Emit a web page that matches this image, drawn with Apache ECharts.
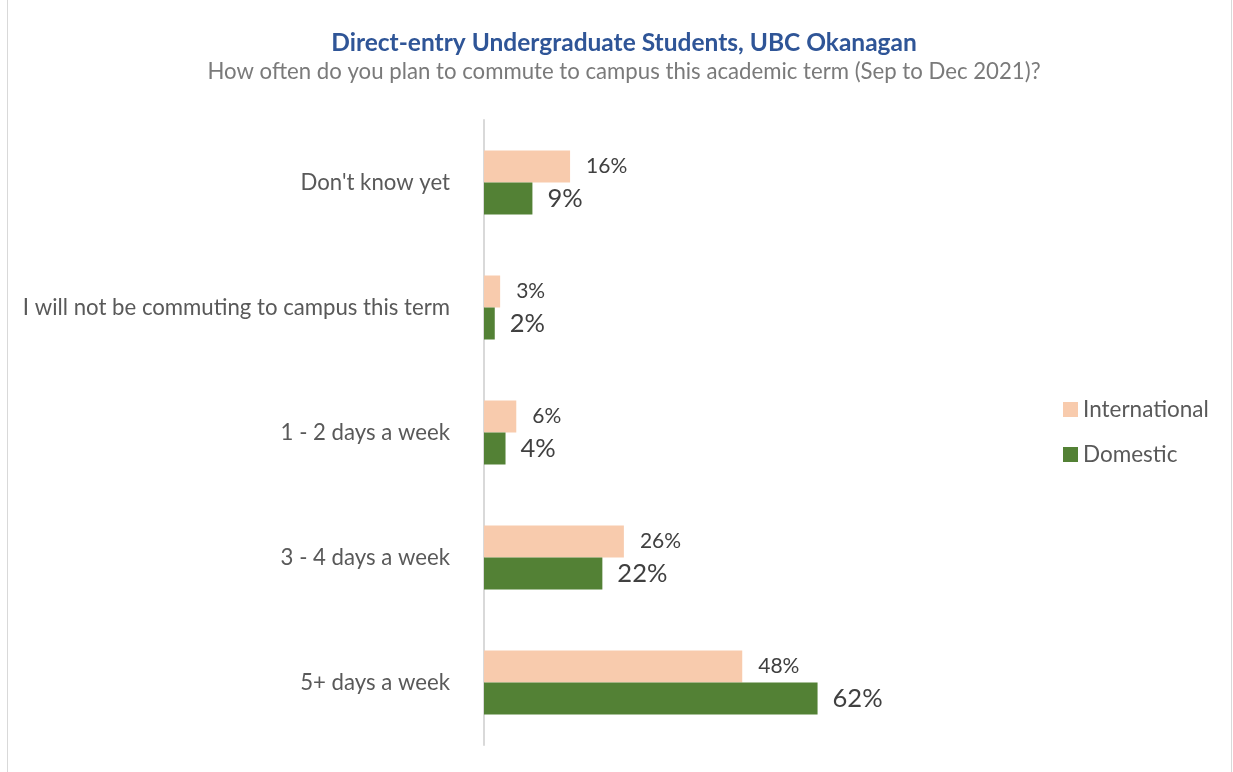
<!DOCTYPE html>
<html><head><meta charset="utf-8">
<script src="https://cdn.jsdelivr.net/npm/echarts@6/dist/echarts.min.js"></script>
<style>html,body{margin:0;padding:0;background:#fff}#c{width:1233px;height:772px}</style>
</head><body><div id="c"></div>
<script>
const categories = ["Don't know yet", "I will not be commuting to campus this term", "1 - 2 days a week", "3 - 4 days a week", "5+ days a week"];
const international = [16, 3, 6, 26, 48];
const domestic = [9, 2, 4, 22, 62];
const seriesNames = ["International", "Domestic"];

const chart = echarts.init(document.getElementById('c'));
chart.setOption({
  animation: false,
  textStyle: { fontFamily: 'Lato' },
  graphic: [{ type: 'rect', shape: { x: 7.5, y: -2, width: 1224, height: 790 }, style: { fill: 'none', stroke: '#d9d9d9', lineWidth: 1 } }],
  title: {
    text: 'Direct-entry Undergraduate Students, UBC Okanagan',
    subtext: 'How often do you plan to commute to campus this academic term (Sep to Dec 2021)?',
    left: 619, textAlign: 'center', top: 26,
    textStyle: { color: '#2F5597', fontSize: 24.5, fontWeight: 'bold', fontFamily: 'Lato' },
    subtextStyle: { color: '#7a7a7a', fontSize: 22.2, fontFamily: 'Lato' },
    itemGap: 5
  },
  legend: {
    data: seriesNames, orient: 'vertical', left: 1058, top: 393, itemGap: 22,
    itemWidth: 15, itemHeight: 15, icon: 'rect',
    textStyle: { color: '#595959', fontSize: 22.5, fontFamily: 'Lato' }
  },
  grid: { left: 484, top: 120, width: 538, height: 625 },
  xAxis: { type: 'value', min: 0, max: 100, show: false },
  yAxis: {
    type: 'category', data: categories, inverse: true,
    axisLine: { show: true, lineStyle: { color: '#d9d9d9', width: 2 } },
    axisTick: { show: false },
    axisLabel: { color: '#595959', fontSize: 22.2, margin: 34, fontFamily: 'Lato' }
  },
  series: [
    { name: seriesNames[0], type: 'bar', data: international, barWidth: 32, barGap: '0%',
      itemStyle: { color: '#F8CBAD' },
      label: { show: true, position: 'right', distance: 16, formatter: '{c}%', color: '#404040', fontSize: 21, fontFamily: 'Lato' } },
    { name: seriesNames[1], type: 'bar', data: domestic, barWidth: 32,
      itemStyle: { color: '#538135' },
      label: { show: true, position: 'right', distance: 15, formatter: '{c}%', color: '#404040', fontSize: 25.5, fontFamily: 'Lato' } }
  ]
});
</script></body></html>
